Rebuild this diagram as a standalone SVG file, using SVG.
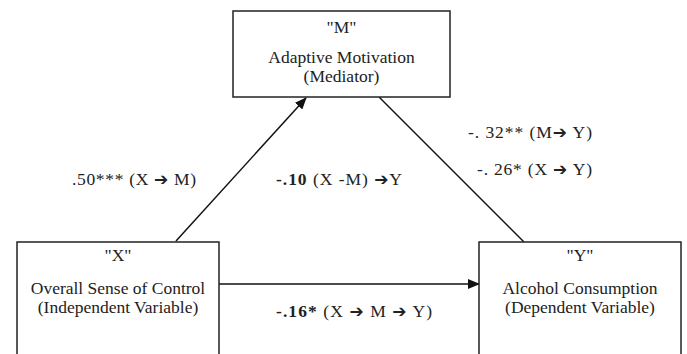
<svg xmlns="http://www.w3.org/2000/svg" width="687" height="354" viewBox="0 0 687 354">
<style>
.box{fill:#fff;stroke:#222;stroke-width:1.5}
.t{font-family:"Liberation Serif","Times New Roman",serif;font-size:17.5px;fill:#222}
.c{text-anchor:middle}
.ar{font-family:"DejaVu Sans",sans-serif;font-size:17px;font-weight:bold}
.ln{stroke:#111;stroke-width:1.5;fill:none}
</style>
<defs>
<marker id="ah" markerUnits="userSpaceOnUse" markerWidth="12" markerHeight="10" refX="11" refY="5" orient="auto">
<path d="M0,0 L12,5 L0,10 Z" fill="#111"/>
</marker>
</defs>
<rect width="687" height="354" fill="#fff"/>
<g id="connectors">
<line class="ln" x1="176" y1="241" x2="306" y2="98" marker-end="url(#ah)"/>
<line class="ln" x1="379" y1="97" x2="524" y2="242"/>
<line class="ln" x1="219" y1="284" x2="479" y2="284" marker-end="url(#ah)"/>
</g>
<g id="node-M">
<rect class="box" x="233" y="11" width="217" height="86"/>
<text class="t c" x="341.5" y="33">"M"</text>
<text class="t c" x="341.5" y="63">Adaptive Motivation</text>
<text class="t c" x="341.5" y="82">(Mediator)</text>
</g>
<g id="node-X">
<rect class="box" x="17" y="242" width="202" height="120"/>
<text class="t c" x="118" y="261">"X"</text>
<text class="t c" x="118" y="293.5">Overall Sense of Control</text>
<text class="t c" x="118" y="312.5">(Independent Variable)</text>
</g>
<g id="node-Y">
<rect class="box" x="479" y="242" width="202" height="120"/>
<text class="t c" x="580" y="261">"Y"</text>
<text class="t c" x="580" y="293.5">Alcohol Consumption</text>
<text class="t c" x="580" y="312.5">(Dependent Variable)</text>
</g>
<g id="labels">
<text class="t" x="72" y="185" textLength="124" lengthAdjust="spacing">.50*** (X <tspan class="ar">➔</tspan> M)</text>
<text class="t" x="276" y="185" textLength="126" lengthAdjust="spacing"><tspan font-weight="bold">-.10</tspan> (X -M) <tspan class="ar">➔</tspan>Y</text>
<text class="t" x="468" y="138" textLength="124" lengthAdjust="spacing">-. 32** (M<tspan class="ar">➔</tspan> Y)</text>
<text class="t" x="477" y="175" textLength="115" lengthAdjust="spacing">-. 26* (X <tspan class="ar">➔</tspan> Y)</text>
<text class="t" x="276" y="317" textLength="156" lengthAdjust="spacing"><tspan font-weight="bold">-.16*</tspan> (X <tspan class="ar">➔</tspan> M <tspan class="ar">➔</tspan> Y)</text>
</g>
</svg>
